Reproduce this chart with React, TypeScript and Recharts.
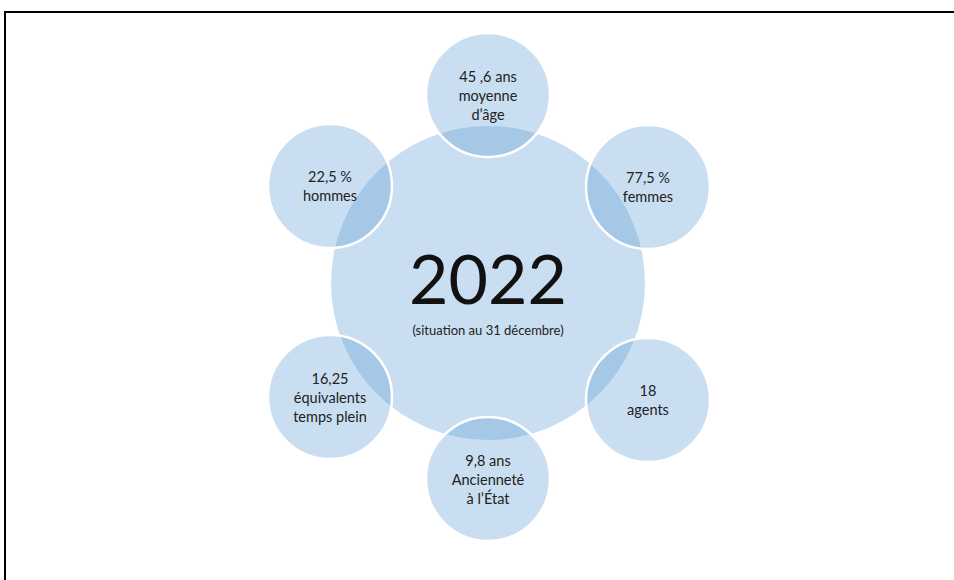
import React from 'react'
import { ScatterChart, Scatter, XAxis, YAxis } from 'recharts'

const W = 954
const H = 580

// central circle
const centreX = [488]
const centreY = [283]
const centreR = [157]
const centreTitle = ['2022']
const centreSub = ['(situation au 31 décembre)']

// satellites, clockwise from the top
const satLabels = [
  ['45 ,6 ans', 'moyenne', 'd’âge'],
  ['77,5 %', 'femmes'],
  ['18', 'agents'],
  ['9,8 ans', 'Ancienneté', 'à l’État'],
  ['16,25', 'équivalents', 'temps plein'],
  ['22,5 %', 'hommes'],
]
const satX = [488, 648, 648, 488, 330, 330]
const satY = [95, 187, 400, 479, 397, 186]
const satR = [62, 62, 62, 62, 62, 62]

const centreData = centreX.map((x, i) => ({ x, y: centreY[i], r: centreR[i], title: centreTitle[i], sub: centreSub[i] }))
const satData = satX.map((x, i) => ({ x, y: satY[i], r: satR[i], lines: satLabels[i] }))

const FILL = '#5B9BD5'
const ALPHA = 0.33
const FONT = 'Lato, "Open Sans", sans-serif'
// plot area is the full chart, so 1 data unit on x = W / domain width px
const k = W / W

const CentreShape = (p: any) => {
  const { cx, cy, payload } = p
  return (
    <g>
      <circle cx={cx} cy={cy} r={payload.r * k} fill={FILL} fillOpacity={ALPHA} />
      <text x={cx} y={cy - 6} textAnchor="middle" dominantBaseline="central" fontFamily={FONT} fontSize={68} fill="#111">
        {payload.title}
      </text>
      <text x={cx} y={cy + 47} textAnchor="middle" dominantBaseline="central" fontFamily={FONT} fontSize={13} fill="#222">
        {payload.sub}
      </text>
    </g>
  )
}

const SatShape = (p: any) => {
  const { cx, cy, payload } = p
  const lines: string[] = payload.lines
  const lh = 19
  const top = cy - ((lines.length - 1) * lh) / 2
  return (
    <g>
      <circle cx={cx} cy={cy} r={payload.r * k} fill={FILL} fillOpacity={ALPHA} stroke="#fff" strokeWidth={2.5} />
      {lines.map((l, i) => (
        <text key={i} x={cx} y={top + i * lh} textAnchor="middle" dominantBaseline="central" fontFamily={FONT} fontSize={14.5} fill="#222">
          {l}
        </text>
      ))}
    </g>
  )
}

export default function App() {
  return (
    <div style={{ position: 'absolute', left: 0, top: 0, width: W, height: H, overflow: 'hidden', background: '#fff' }}>
      <div style={{ position: 'absolute', left: 4, top: 11, width: W + 20, height: H + 20, border: '2px solid #000', boxSizing: 'border-box' }} />
      <div style={{ position: 'absolute', left: 0, top: 0 }}>
        <ScatterChart width={W} height={H} margin={{ top: 0, right: 0, bottom: 0, left: 0 }}>
          <XAxis type="number" dataKey="x" domain={[0, W]} hide />
          <YAxis type="number" dataKey="y" domain={[0, H]} reversed hide width={0} />
          <Scatter data={centreData} shape={CentreShape} isAnimationActive={false} />
          <Scatter data={satData} shape={SatShape} isAnimationActive={false} />
        </ScatterChart>
      </div>
    </div>
  )
}
